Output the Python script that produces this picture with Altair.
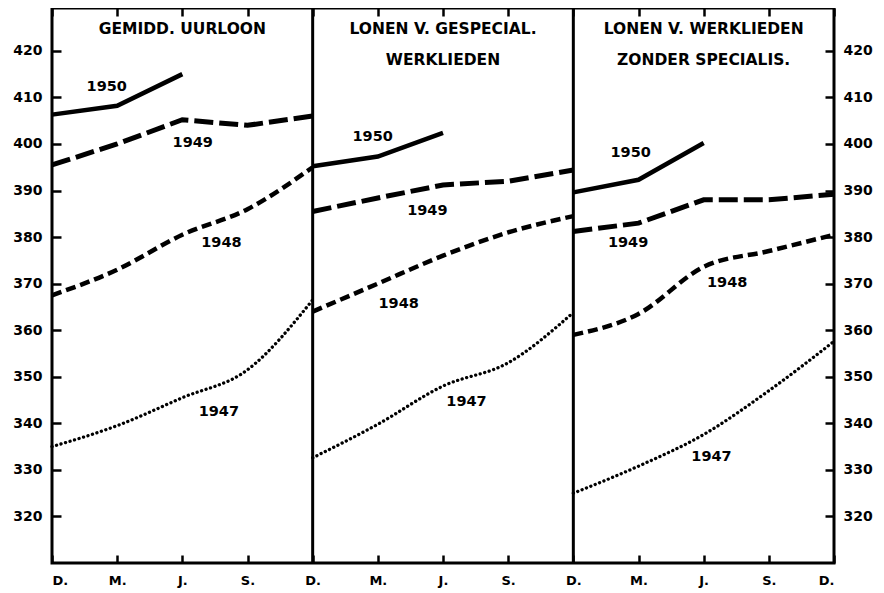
import json
import altair as alt
import pandas as pd

# ---- data ----
months = ["D.", "M.", "J.", "S.", "D."]
years = ["1947", "1948", "1949", "1950"]
panel_titles = [
    ["GEMIDD. UURLOON"],
    ["LONEN V. GESPECIAL.", "WERKLIEDEN"],
    ["LONEN V. WERKLIEDEN", "ZONDER SPECIALIS."],
]

uurloon_1947 = [335.0, 339.5, 345.5, 351.5, 366.5]
uurloon_1948 = [367.5, 373.0, 380.5, 386.0, 395.0]
uurloon_1949 = [395.5, 400.0, 405.2, 404.0, 406.0]
uurloon_1950 = [406.3, 408.2, 415.0]

gespecial_1947 = [332.6, 339.8, 348.0, 353.0, 363.8]
gespecial_1948 = [364.0, 370.0, 376.0, 381.0, 384.5]
gespecial_1949 = [385.5, 388.4, 391.2, 392.0, 394.4]
gespecial_1950 = [395.2, 397.3, 402.4]

zonder_1947 = [325.0, 330.8, 337.6, 347.0, 357.6]
zonder_1948 = [359.0, 363.5, 373.6, 377.0, 380.5]
zonder_1949 = [381.2, 383.0, 388.0, 388.0, 389.2]
zonder_1950 = [389.6, 392.3, 400.2]

y_ticks = [320, 330, 340, 350, 360, 370, 380, 390, 400, 410, 420]

# label anchor positions (fraction of panel width, value)
year_label_pos = [
    {"1950": (0.21, 412.3), "1949": (0.54, 400.3), "1948": (0.65, 378.8), "1947": (0.64, 342.5)},
    {"1950": (0.23, 401.5), "1949": (0.44, 385.7), "1948": (0.33, 365.7), "1947": (0.59, 344.5)},
    {"1950": (0.22, 398.1), "1949": (0.21, 378.8), "1948": (0.59, 370.2), "1947": (0.53, 332.7)},
]
title_line_y = [424.7, 418.1]

# ---- build tables ----
series = [
    {"1947": uurloon_1947, "1948": uurloon_1948, "1949": uurloon_1949, "1950": uurloon_1950},
    {"1947": gespecial_1947, "1948": gespecial_1948, "1949": gespecial_1949, "1950": gespecial_1950},
    {"1947": zonder_1947, "1948": zonder_1948, "1949": zonder_1949, "1950": zonder_1950},
]
rows = []
for p, sdict in enumerate(series):
    for yr, vals in sdict.items():
        for i, v in enumerate(vals):
            rows.append({"x": p + i * 0.25, "value": v, "year": yr, "key": f"{p}-{yr}"})
df = pd.DataFrame(rows)

lab_rows = []
for p, d in enumerate(year_label_pos):
    for yr, (fx, vy) in d.items():
        lab_rows.append({"x": p + fx, "value": vy, "text": yr})
labels_df = pd.DataFrame(lab_rows)

title_rows = []
for p, lines in enumerate(panel_titles):
    for j, t in enumerate(lines):
        title_rows.append({"x": p + 0.5, "value": title_line_y[j], "text": t})
titles_df = pd.DataFrame(title_rows)

div_df = pd.DataFrame({"x": [1, 2]})

FONT = "DejaVu Sans"
Y_DOMAIN = [310.0, 429.2]
x_scale = alt.Scale(domain=[0, 3], nice=False, zero=False)
y_scale = alt.Scale(domain=Y_DOMAIN, nice=False, zero=False)
x_ticks = [k * 0.25 for k in range(13)]
label_expr = f"{json.dumps(months[:4])}[round((datum.value % 1) * 4)]"

styles = {
    "1947": dict(strokeDash=[0.1, 4.6], strokeWidth=3.3, strokeCap="round", interpolate="monotone"),
    "1948": dict(strokeDash=[10, 5], strokeWidth=4.5, strokeCap="butt", interpolate="monotone"),
    "1949": dict(strokeDash=[19, 6], strokeWidth=5, strokeCap="butt", interpolate="linear"),
    "1950": dict(strokeWidth=4.5, strokeCap="butt", interpolate="linear"),
}

base = alt.Chart(df)
layers = []
for i, yr in enumerate(years):
    st = styles[yr]
    mk = base.transform_filter(alt.datum.year == yr).mark_line(color="black", **st)
    if i == 0:
        enc = dict(
            x=alt.X("x:Q", scale=x_scale, axis=alt.Axis(
                orient="bottom", values=x_ticks, labelExpr=label_expr, domain=False, grid=False,
                tickSize=8, tickWidth=2.5, tickColor="black", offset=-8, labelPadding=11,
                labelFont=FONT, labelFontSize=13, labelFontWeight="bold", labelColor="black",
                title=None)),
            y=alt.Y("value:Q", scale=y_scale, axis=alt.Axis(
                orient="left", values=y_ticks, domain=False, grid=False,
                tickSize=9, tickWidth=2.5, tickColor="black", offset=-9, labelPadding=10,
                labelFont=FONT, labelFontSize=14, labelFontWeight="bold", labelColor="black",
                title=None)),
        )
    elif i == 1:
        enc = dict(
            x=alt.X("x:Q", scale=x_scale, axis=alt.Axis(
                orient="top", values=x_ticks, labels=False, domain=False, grid=False,
                tickSize=8, tickWidth=2.5, tickColor="black", offset=-8, title=None)),
            y=alt.Y("value:Q", scale=y_scale, axis=alt.Axis(
                orient="right", values=y_ticks, domain=False, grid=False,
                tickSize=9, tickWidth=2.5, tickColor="black", offset=-9, labelPadding=9,
                labelFont=FONT, labelFontSize=14, labelFontWeight="bold", labelColor="black",
                title=None)),
        )
    else:
        enc = dict(x=alt.X("x:Q", scale=x_scale, axis=None),
                   y=alt.Y("value:Q", scale=y_scale, axis=None))
    layers.append(mk.encode(detail="key:N", **enc))

dividers = alt.Chart(div_df).mark_rule(color="black", strokeWidth=3).encode(
    x=alt.X("x:Q", scale=x_scale, axis=None),
    y=alt.value(0), y2=alt.value(555))

year_text = alt.Chart(labels_df).mark_text(
    font=FONT, fontSize=14.5, fontWeight="bold", color="black").encode(
    x=alt.X("x:Q", scale=x_scale, axis=None),
    y=alt.Y("value:Q", scale=y_scale, axis=None), text="text:N")

title_text = alt.Chart(titles_df).mark_text(
    font=FONT, fontSize=15.5, fontWeight="bold", color="black").encode(
    x=alt.X("x:Q", scale=x_scale, axis=None),
    y=alt.Y("value:Q", scale=y_scale, axis=None), text="text:N")

chart = alt.layer(*layers, dividers, year_text, title_text).resolve_axis(
    x="independent", y="independent"
).properties(
    width=782, height=555,
    padding={"left": 44, "top": 0, "right": 42, "bottom": 28},
    autosize=alt.AutoSizeParams(type="none"),
).configure_view(stroke="black", strokeWidth=3)

chart.save("out.html", embed_options={"renderer": "svg", "actions": False})
